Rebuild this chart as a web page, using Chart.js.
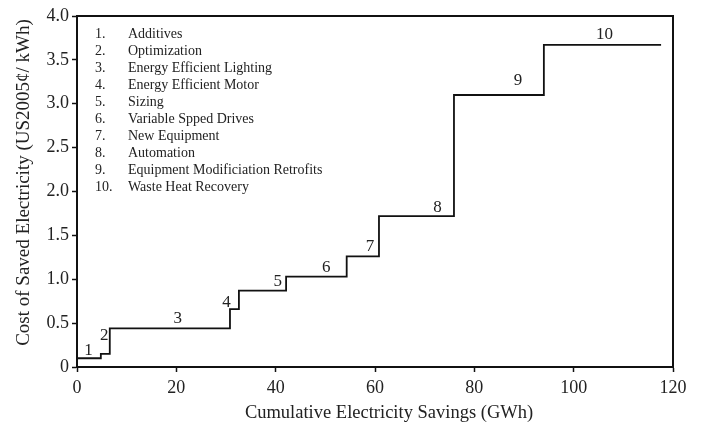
<!DOCTYPE html>
<html>
<head>
<meta charset="utf-8">
<script src="https://cdn.jsdelivr.net/npm/chart.js@4"></script>
<style>
  html, body { margin: 0; padding: 0; background: #fff; }
  #wrap { width: 706px; height: 424px; }
</style>
</head>
<body>
<div id="wrap"><canvas id="c"></canvas></div>
<script>
// measures, in order along the curve
const measures = [
  "Additives", "Optimization", "Energy Efficient Lighting", "Energy Efficient Motor",
  "Sizing", "Variable Spped Drives", "New Equipment", "Automation",
  "Equipment Modificiation Retrofits", "Waste Heat Recovery"
];
// cumulative savings at the end of each step (GWh) and its cost (US2005 cents/kWh)
const stepEnd = [4.8, 6.6, 30.8, 32.6, 42.1, 54.3, 60.8, 75.9, 94.0, 117.6];
const stepCost = [0.10, 0.15, 0.44, 0.66, 0.87, 1.03, 1.26, 1.72, 3.10, 3.67];
// where the step numbers sit (data units)
const numX = [2.3, 5.5, 20.3, 30.1, 40.4, 50.2, 59.0, 72.6, 88.8, 106.2];
const numY = [0.19, 0.36, 0.55, 0.74, 0.97, 1.13, 1.37, 1.82, 3.27, 3.79];
const xTicks = [0, 20, 40, 60, 80, 100, 120];
const yTicks = [0, 0.5, 1.0, 1.5, 2.0, 2.5, 3.0, 3.5, 4.0];
const xTitle = "Cumulative Electricity Savings (GWh)";
const yTitle = "Cost of Saved Electricity (US2005¢/ kWh)";

const points = stepCost.map((c, i) => ({ x: i === 0 ? 0 : stepEnd[i - 1], y: c }));
points.push({ x: stepEnd[stepEnd.length - 1], y: stepCost[stepCost.length - 1] });

const serif = "'Liberation Serif', 'Times New Roman', serif";

const extras = {
  id: "extras",
  afterDatasetsDraw(chart) {
    const { ctx, chartArea: a, scales } = chart;
    ctx.save();
    // box round the plot
    ctx.strokeStyle = "#111";
    ctx.lineWidth = 2;
    ctx.strokeRect(a.left, a.top, a.right - a.left, a.bottom - a.top);
    // step numbers
    ctx.fillStyle = "#222";
    ctx.font = "17px " + serif;
    ctx.textAlign = "center";
    ctx.textBaseline = "middle";
    numX.forEach((x, i) => {
      ctx.fillText(String(i + 1), scales.x.getPixelForValue(x), scales.y.getPixelForValue(numY[i]));
    });
    // key in the top-left corner
    ctx.font = "14px " + serif;
    ctx.textAlign = "left";
    measures.forEach((m, i) => {
      const y = a.top + 18 + i * 17;
      ctx.fillText((i + 1) + ".", a.left + 18, y);
      ctx.fillText(m, a.left + 51, y);
    });
    // axis titles, both a little off centre as in the original
    ctx.textAlign = "center";
    ctx.font = "18.5px " + serif;
    ctx.fillText(xTitle, (a.left + a.right) / 2 + 14, a.bottom + 46);
    ctx.font = "19px " + serif;
    ctx.translate(24, (a.top + a.bottom) / 2 - 9);
    ctx.rotate(-Math.PI / 2);
    ctx.fillText(yTitle, 0, 0);
    ctx.restore();
  }
};

new Chart(document.getElementById("c"), {
  type: "scatter",
  data: {
    datasets: [{
      data: points,
      showLine: true,
      stepped: true,
      borderColor: "#111",
      borderWidth: 1.8,
      pointRadius: 0,
      fill: false
    }]
  },
  options: {
    responsive: true,
    maintainAspectRatio: false,
    animation: false,
    layout: { padding: { left: 0, top: 16, right: 33, bottom: 0 } },
    plugins: { legend: { display: false }, tooltip: { enabled: false } },
    scales: {
      x: {
        type: "linear",
        min: 0,
        max: 120,
        afterBuildTicks: s => { s.ticks = xTicks.map(v => ({ value: v })); },
        afterFit: s => { s.height = 57; },
        ticks: { color: "#222", font: { family: serif, size: 18 }, padding: 5, maxRotation: 0 },
        grid: { drawOnChartArea: false, drawTicks: true, tickLength: 5, tickColor: "#111", tickWidth: 1.5 },
        border: { color: "#111", width: 2 },
        title: { display: false }
      },
      y: {
        min: 0,
        max: 4,
        afterBuildTicks: s => { s.ticks = yTicks.map(v => ({ value: v })); },
        afterFit: s => { s.width = 77; },
        ticks: {
          color: "#222",
          font: { family: serif, size: 18 },
          padding: 3,
          callback: v => (v === 0 ? "0" : v.toFixed(1))
        },
        grid: { drawOnChartArea: false, drawTicks: true, tickLength: 5, tickColor: "#111", tickWidth: 1.5 },
        border: { color: "#111", width: 2 },
        title: { display: false }
      }
    }
  },
  plugins: [extras]
});
</script>
</body>
</html>
